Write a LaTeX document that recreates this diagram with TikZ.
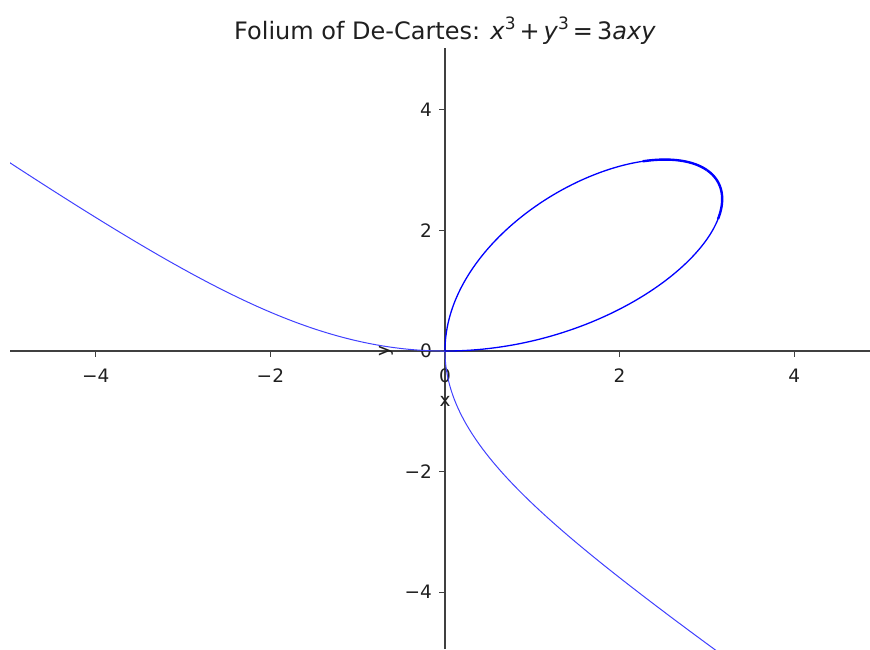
\documentclass[tikz,border=0pt]{standalone}
\usepackage{fontspec}
\setmainfont{DejaVu Sans}
\begin{document}
\begin{tikzpicture}[x=87.3pt,y=60.3pt,
  spine/.style={line width=1.4pt,black!75},
  tickmark/.style={line width=1pt,black!75},
  ticklbl/.style={font=\fontsize{18.5}{18.5}\selectfont,text=black!88,inner sep=0pt},
  curve/.style={blue!75,line width=1pt},
  loopcurve/.style={blue,line width=1.3pt},
  thickpart/.style={blue,line width=2.4pt},
]
\useasboundingbox (-5.097,-4.942) rectangle (4.868,5.821);
\coordinate (xl) at (-4.98,0);
\coordinate (xr) at (4.868,0);
\coordinate (yt) at (0,5.02);
\coordinate (yb) at (0,-4.942);
\draw[spine] (xl) -- (xr);
\draw[spine] (yb) -- (yt);
% x ticks
\foreach \v/\l in {-4/−4,-2/−2,0/0,2/2,4/4}{
  \coordinate (xtk\v) at (\v,0);
  \draw[tickmark] (xtk\v) -- ++(0,-6pt);
  \node[ticklbl] (xlab\v) at ([yshift=-25pt]xtk\v) {\l};
}
% y ticks
\foreach \v/\l in {-4/−4,-2/−2,0/0,2/2,4/4}{
  \coordinate (ytk\v) at (0,\v);
  \draw[tickmark] (ytk\v) -- ++(-6pt,0);
  \node[ticklbl,anchor=east] (ylab\v) at ([xshift=-13pt]ytk\v) {\l};
}
\node[ticklbl] (xname) at (0,-0.84) {x};
\node[ticklbl,rotate=90] (yname) at (-0.676,0) {y};
\node[font=\fontsize{24}{24}\selectfont,text=black!88,inner sep=0pt] (title) at (0,5.31)
  {Folium of De-Cartes: \textit{x}\raisebox{0.42em}{\fontsize{17}{17}\selectfont 3}\,+\,\textit{y}\raisebox{0.42em}{\fontsize{17}{17}\selectfont 3}\,=\,3\textit{axy}};
\begin{scope}
\clip (-4.98,-4.942) rectangle (4.868,5.02);
\draw[curve] plot[domain=0:0.64, samples=160, smooth, variable=\s] ({-6*\s/(1-\s^3)},{6*\s^2/(1-\s^3)});
\draw[curve] plot[domain=0:0.65, samples=160, smooth, variable=\s] ({6*\s^2/(1-\s^3)},{-6*\s/(1-\s^3)});
\draw[loopcurve] plot[domain=0:1, samples=120, smooth, variable=\s] ({6*\s/(1+\s^3)},{6*\s^2/(1+\s^3)});
\draw[loopcurve] plot[domain=0:1, samples=120, smooth, variable=\s] ({6*\s^2/(1+\s^3)},{6*\s/(1+\s^3)});
\draw[thickpart] plot[domain=0.7:1, samples=60, smooth, variable=\s] ({6*\s/(1+\s^3)},{6*\s^2/(1+\s^3)});
\draw[thickpart] plot[domain=0.72:1, samples=60, smooth, variable=\s] ({6*\s^2/(1+\s^3)},{6*\s/(1+\s^3)});
\end{scope}
\end{tikzpicture}
\end{document}
